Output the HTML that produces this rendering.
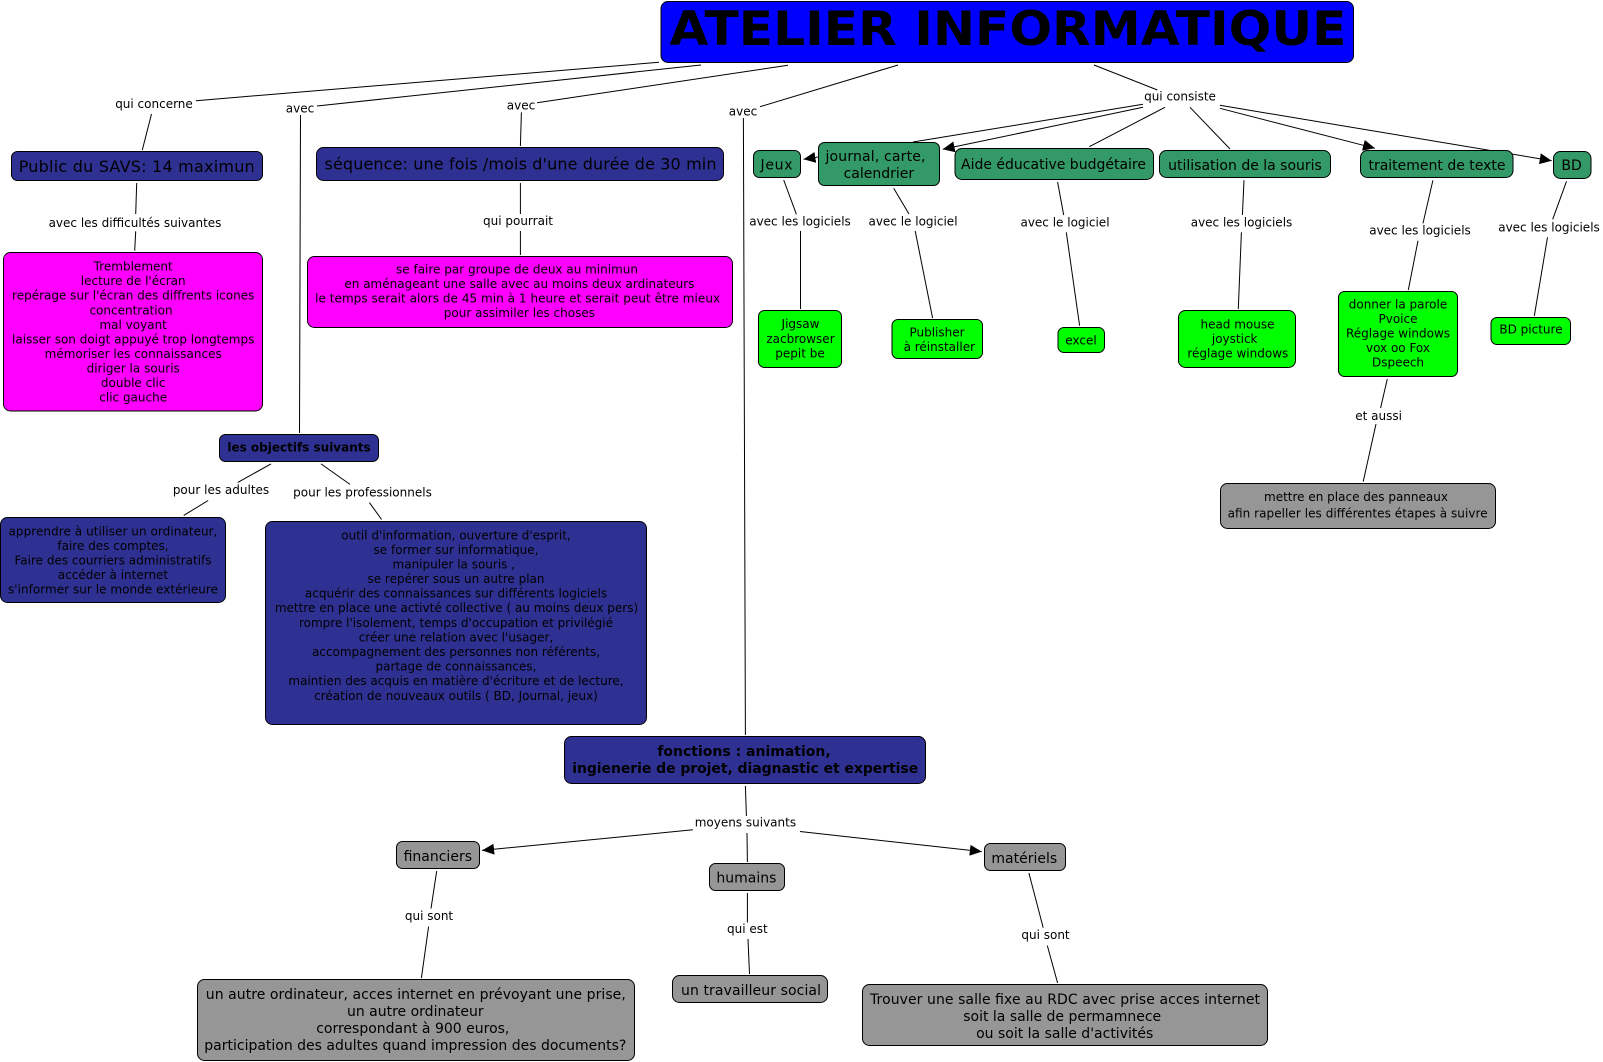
<!DOCTYPE html>
<html lang="fr"><head><meta charset="utf-8"><title>Atelier informatique</title>
<style>
html,body{margin:0;padding:0;background:#fff;width:1603px;height:1062px;overflow:hidden}
svg{display:block}
text{font-family:"DejaVu Sans","Liberation Sans",sans-serif;font-size:12px;text-anchor:middle;fill:#000}
.b{font-weight:bold}.s14{font-size:14px}.s16{font-size:16px}
.n{stroke:#000;stroke-width:1}
.blue{fill:#0000ff}.navy{fill:#2f3192}.mag{fill:#ff00ff}.sea{fill:#339966}.lime{fill:#00ff00}.grey{fill:#969696}
line{stroke:#000;stroke-width:1}
</style></head><body>
<svg xmlns="http://www.w3.org/2000/svg" width="1603" height="1062" viewBox="0 0 1603 1062">
<defs><marker id="a" markerUnits="userSpaceOnUse" markerWidth="13" markerHeight="12" refX="12" refY="5.5" orient="auto"><path d="M0,0L12,5.5L0,11z" fill="#000"/></marker></defs>
<g>
<line x1="659" y1="62.3" x2="196" y2="100.7"/><line x1="151.5" y1="114" x2="142.3" y2="150"/>
<line x1="701" y1="65" x2="317" y2="106"/><line x1="300.5" y1="115" x2="299.5" y2="433"/>
<line x1="788" y1="65.3" x2="537" y2="102.7"/><line x1="521.4" y1="112.3" x2="520.4" y2="146"/>
<line x1="898" y1="65" x2="760" y2="106.7"/><line x1="743.4" y1="118" x2="745.4" y2="735"/>
<line x1="1094" y1="65" x2="1157.4" y2="90"/>
<line x1="1143" y1="104.3" x2="913" y2="142"/>
<line x1="818" y1="157" x2="803.5" y2="159.3" marker-end="url(#a)"/>
<line x1="1143" y1="107.3" x2="942.7" y2="149.3" marker-end="url(#a)"/>
<line x1="1165" y1="107.3" x2="1089.3" y2="146.7"/>
<line x1="1190" y1="107.3" x2="1230" y2="149"/>
<line x1="1219.9" y1="108.3" x2="1375" y2="148.3" marker-end="url(#a)"/>
<line x1="1219.9" y1="105.3" x2="1551.7" y2="160.7" marker-end="url(#a)"/>
<line x1="136.7" y1="183" x2="135.7" y2="214"/><line x1="135.7" y1="231.3" x2="134.7" y2="250.7"/>
<line x1="520.4" y1="183" x2="520.4" y2="214"/><line x1="520.4" y1="231" x2="520.4" y2="255"/>
<line x1="783.7" y1="180" x2="796.4" y2="214.3"/><line x1="800.5" y1="231" x2="800.5" y2="309"/>
<line x1="893.7" y1="188.3" x2="909" y2="214"/><line x1="915.2" y1="231" x2="932.6" y2="318"/>
<line x1="1057.6" y1="182" x2="1063.7" y2="215"/><line x1="1066.3" y1="232.3" x2="1079.6" y2="325.7"/>
<line x1="1244" y1="180.3" x2="1242.4" y2="215"/><line x1="1241.4" y1="232.3" x2="1238.3" y2="309"/>
<line x1="1432.9" y1="180.3" x2="1423" y2="223.3"/><line x1="1418" y1="240.7" x2="1408.3" y2="290"/>
<line x1="1566.5" y1="181.3" x2="1552.7" y2="219.3"/><line x1="1547.5" y1="237.3" x2="1534.3" y2="316"/>
<line x1="1387.3" y1="379" x2="1380.6" y2="408"/><line x1="1376" y1="424" x2="1363.2" y2="481.6"/>
<line x1="271" y1="463.9" x2="237.8" y2="482.4"/><line x1="208.2" y1="500.5" x2="183.7" y2="515.4"/>
<line x1="321" y1="463.9" x2="350" y2="484.4"/><line x1="369.4" y1="502.6" x2="381.6" y2="519.5"/>
<line x1="745.4" y1="786" x2="746.4" y2="816"/><line x1="747" y1="833" x2="747.4" y2="862"/>
<line x1="692.9" y1="829.8" x2="482.1" y2="850.4" marker-end="url(#a)"/>
<line x1="800" y1="831.5" x2="981.8" y2="851.6" marker-end="url(#a)"/>
<line x1="436.7" y1="871" x2="431" y2="908.5"/><line x1="428.6" y1="926.6" x2="421.4" y2="978"/>
<line x1="747.4" y1="893" x2="747.4" y2="922.5"/><line x1="748" y1="939" x2="749.5" y2="974"/>
<line x1="1028.9" y1="873" x2="1043.2" y2="927.8"/><line x1="1047.3" y1="945.5" x2="1057.6" y2="983"/>
</g>
<g class="n">
<rect class="blue" x="661" y="1.5" width="692.5" height="61" rx="7"/>
<rect class="navy" x="11.5" y="151.5" width="251" height="29" rx="6"/>
<rect class="navy" x="316.5" y="147.5" width="407" height="33" rx="7"/>
<rect class="sea" x="753.5" y="150.5" width="47" height="27" rx="6"/>
<rect class="sea" x="818.5" y="142.5" width="121" height="43" rx="6"/>
<rect class="sea" x="955" y="148.5" width="198.5" height="31" rx="7"/>
<rect class="sea" x="1159.5" y="150.5" width="171" height="27" rx="7"/>
<rect class="sea" x="1360.5" y="150.5" width="152.5" height="27" rx="7"/>
<rect class="sea" x="1553.5" y="151.5" width="37.5" height="27" rx="7"/>
<rect class="mag" x="3.5" y="252.5" width="259" height="158.5" rx="7"/>
<rect class="mag" x="307.5" y="256.5" width="425" height="71" rx="7"/>
<rect class="lime" x="758.5" y="310.5" width="83" height="57" rx="6"/>
<rect class="lime" x="892" y="319.5" width="90.5" height="39" rx="6"/>
<rect class="lime" x="1058" y="327.5" width="46.5" height="25" rx="6"/>
<rect class="lime" x="1178.5" y="310.5" width="117" height="57" rx="7"/>
<rect class="lime" x="1338.5" y="291.5" width="119" height="85" rx="6"/>
<rect class="lime" x="1491" y="317.5" width="79.5" height="27" rx="6"/>
<rect class="grey" x="1220.5" y="483.5" width="275" height="45" rx="7"/>
<rect class="navy" x="219.5" y="434.5" width="159" height="27" rx="6"/>
<rect class="navy" x="0.5" y="517.5" width="225" height="85" rx="7"/>
<rect class="navy" x="265.5" y="521.5" width="381" height="203" rx="7"/>
<rect class="navy" x="564.5" y="736.5" width="361" height="47" rx="7"/>
<rect class="grey" x="396.5" y="841.5" width="83" height="27" rx="6"/>
<rect class="grey" x="709.5" y="863.5" width="75" height="27" rx="6"/>
<rect class="grey" x="984.5" y="843.5" width="81" height="27" rx="6"/>
<rect class="grey" x="197.5" y="979.5" width="437" height="81" rx="7"/>
<rect class="grey" x="672.5" y="975.5" width="155" height="27" rx="7"/>
<rect class="grey" x="862.5" y="984.5" width="405" height="61" rx="7"/>
</g>
<text class="b" x="1008" y="45" style="font-size:47px" textLength="677" lengthAdjust="spacingAndGlyphs">ATELIER INFORMATIQUE</text>
<text x="154" y="108">qui concerne</text>
<text x="300" y="112.5">avec</text>
<text x="521" y="109.5">avec</text>
<text x="743" y="115.5">avec</text>
<text x="1180" y="100.5">qui consiste</text>
<text x="135" y="227">avec les difficultés suivantes</text>
<text x="518" y="225">qui pourrait</text>
<text x="800" y="225.5">avec les logiciels</text>
<text x="913" y="225.5">avec le logiciel</text>
<text x="1065" y="226.5">avec le logiciel</text>
<text x="1241.5" y="226.5">avec les logiciels</text>
<text x="1420" y="234.5">avec les logiciels</text>
<text x="1549" y="231.5">avec les logiciels</text>
<text x="1378.6" y="420">et aussi</text>
<text x="221" y="494">pour les adultes</text>
<text x="362.5" y="496.5">pour les professionnels</text>
<text x="745.4" y="826.5">moyens suivants</text>
<text x="429" y="920">qui sont</text>
<text x="747.4" y="933">qui est</text>
<text x="1045.5" y="939">qui sont</text>

<text class="s16" x="136.7" y="172" textLength="236">Public du SAVS: 14 maximun</text>
<text class="s16" x="520.5" y="169.5" textLength="392">séquence: une fois /mois d'une durée de 30 min</text>
<text class="s14" x="776.5" y="169.5" textLength="32">Jeux</text>
<text class="s14" x="875.5" y="161" textLength="100">journal, carte,</text>
<text class="s14" x="878.9" y="178">calendrier</text>
<text class="s14" x="1053.5" y="169">Aide éducative budgétaire</text>
<text class="s14" x="1245" y="170">utilisation de la souris</text>
<text class="s14" x="1437" y="170">traitement de texte</text>
<text class="s14" x="1571.6" y="170">BD</text>

<text x="133.2" y="270.5">Tremblement</text>
<text x="133.2" y="285">lecture de l'écran</text>
<text x="133.2" y="299.5">repérage sur l'écran des diffrents icones</text>
<text x="131" y="314.5">concentration</text>
<text x="133.2" y="329">mal voyant</text>
<text x="133.2" y="343.5">laisser son doigt appuyé trop longtemps</text>
<text x="133.2" y="358">mémoriser les connaissances</text>
<text x="133.2" y="372.5">diriger la souris</text>
<text x="133.2" y="387">double clic</text>
<text x="133.2" y="401.5">clic gauche</text>

<text x="517" y="273.5">se faire par groupe de deux au minimun</text>
<text x="519.4" y="288">en aménageant une salle avec au moins deux ardinateurs</text>
<text x="517.6" y="302.5" textLength="405">le temps serait alors de 45 min à 1 heure et serait peut être mieux</text>
<text x="519.4" y="317">pour assimiler les choses</text>

<text x="800.5" y="328">Jigsaw</text>
<text x="800.5" y="343">zacbrowser</text>
<text x="800" y="357.5">pepit be</text>
<text x="937" y="336.5">Publisher</text>
<text x="939.3" y="351">à réinstaller</text>
<text x="1081" y="344.5">excel</text>
<text x="1237.5" y="328.5">head mouse</text>
<text x="1234.7" y="343">joystick</text>
<text x="1237.8" y="357.5">réglage windows</text>
<text x="1398" y="308.5">donner la parole</text>
<text x="1398" y="323">Pvoice</text>
<text x="1398" y="337.5">Réglage windows</text>
<text x="1398" y="352">vox oo Fox</text>
<text x="1398" y="366.5">Dspeech</text>
<text x="1531" y="333.5">BD picture</text>

<text x="1356" y="501">mettre en place des panneaux</text>
<text x="1357.6" y="517.5" textLength="260">afin rapeller les différentes étapes à suivre</text>

<text class="b" x="299" y="451.5">les objectifs suivants</text>

<text x="113" y="535.5" textLength="209">apprendre à utiliser un ordinateur,</text>
<text x="113" y="550">faire des comptes,</text>
<text x="113" y="564.5">Faire des courriers administratifs</text>
<text x="113" y="579">accéder à internet</text>
<text x="113" y="593.5" textLength="210">s'informer sur le monde extérieure</text>

<text x="456" y="539.5">outil d'information, ouverture d'esprit,</text>
<text x="456" y="554">se former sur informatique,</text>
<text x="453.8" y="568.5">manipuler la souris ,</text>
<text x="456" y="583">se repérer sous un autre plan</text>
<text x="456" y="597.5">acquérir des connaissances sur différents logiciels</text>
<text x="456.5" y="612">mettre en place une activté collective ( au moins deux pers)</text>
<text x="456" y="627">rompre l'isolement, temps d'occupation et privilégié</text>
<text x="456" y="641.5">créer une relation avec l'usager,</text>
<text x="456" y="656">accompagnement des personnes non référents,</text>
<text x="456" y="670.5">partage de connaissances,</text>
<text x="456" y="685">maintien des acquis en matière d'écriture et de lecture,</text>
<text x="456" y="700">création de nouveaux outils ( BD, Journal, jeux)</text>

<text class="b s14" x="744" y="756">fonctions : animation,</text>
<text class="b s14" x="745.2" y="773" textLength="346">ingienerie de projet, diagnastic et expertise</text>

<text class="s14" x="437.8" y="861">financiers</text>
<text class="s14" x="746.4" y="882.5">humains</text>
<text class="s14" x="1024.3" y="863">matériels</text>
<text class="s14" x="415.8" y="999" textLength="420">un autre ordinateur, acces internet en prévoyant une prise,</text>
<text class="s14" x="415.3" y="1016">un autre ordinateur</text>
<text class="s14" x="412.8" y="1033">correspondant à 900 euros,</text>
<text class="s14" x="415.3" y="1050" textLength="422">participation des adultes quand impression des documents?</text>
<text class="s14" x="751" y="995" textLength="140">un travailleur social</text>
<text class="s14" x="1065" y="1004" textLength="390">Trouver une salle fixe au RDC avec prise acces internet</text>
<text class="s14" x="1062.2" y="1021">soit la salle de permamnece</text>
<text class="s14" x="1064.7" y="1038">ou soit la salle d'activités</text>
</svg>
</body></html>
